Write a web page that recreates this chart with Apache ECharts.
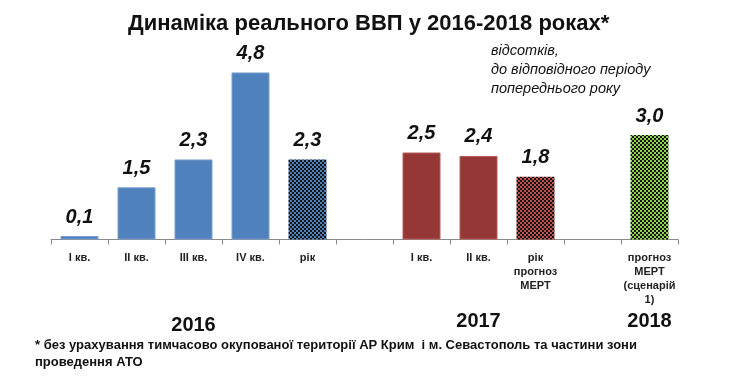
<!DOCTYPE html>
<html><head><meta charset="utf-8">
<script src="https://cdn.jsdelivr.net/npm/echarts@6/dist/echarts.min.js"></script>
<style>html,body{margin:0;padding:0;background:#fff}#c{width:744px;height:378px}</style>
</head><body><div id="c"></div>
<script>
var categories = ['I кв.', 'II кв.', 'III кв.', 'IV кв.', 'рік', '', 'I кв.', 'II кв.', 'рік\nпрогноз\nМЕРТ', '', 'прогноз\nМЕРТ\n(сценарій\n1)'];
var values = [0.1, 1.5, 2.3, 4.8, 2.3, null, 2.5, 2.4, 1.8, null, 3.0];
var barKinds = ['blue', 'blue', 'blue', 'blue', 'bluePat', '', 'red', 'red', 'redPat', '', 'greenPat'];
var yearLabels = ['2016', '2017', '2018'];
var yearSpans = [[0, 4], [6, 8], [10, 10]];

function pattern(base) {
  var cv = document.createElement('canvas');
  cv.width = 4; cv.height = 4;
  var g = cv.getContext('2d');
  g.fillStyle = base; g.fillRect(0, 0, 4, 4);
  g.fillStyle = '#141414';
  g.fillRect(0, 0, 2, 2); g.fillRect(2, 2, 2, 2);
  return { image: cv, repeat: 'repeat' };
}
var styles = {
  blue: { color: '#4F81BD', borderColor: '#7A9FD0', borderWidth: 1 },
  red: { color: '#953735', borderColor: '#B25E5C', borderWidth: 1 },
  bluePat: { color: pattern('#4F81BD') },
  redPat: { color: pattern('#C0504D') },
  greenPat: { color: pattern('#8ED14C') }
};

var data = values.map(function (v, i) {
  if (v === null) return { value: null };
  return { value: v, itemStyle: styles[barKinds[i]] };
});

var chart = echarts.init(document.getElementById('c'));
chart.setOption({
  animation: false,
  title: {
    text: 'Динаміка реального ВВП у 2016-2018 роках*',
    left: 123, top: 8,
    textStyle: { fontFamily: 'Liberation Sans, Arial', fontWeight: 'bold', fontSize: 22, color: '#111' }
  },
  grid: { left: 51, right: 66, top: 65.5, bottom: 138.5 },
  xAxis: {
    type: 'category',
    data: categories,
    axisLine: { show: true, lineStyle: { color: '#8a8a8a', width: 1 } },
    axisTick: { show: true, length: 5, alignWithLabel: false, lineStyle: { color: '#8a8a8a' } },
    axisLabel: {
      interval: 0, margin: 11, color: '#222',
      fontFamily: 'Liberation Sans, Arial', fontWeight: 'bold', fontSize: 11, lineHeight: 14
    }
  },
  yAxis: { type: 'value', min: 0, max: 5, show: false, splitLine: { show: false } },
  series: [{
    type: 'bar',
    data: data,
    barWidth: 38,
    label: {
      show: true, position: 'top', distance: 9,
      fontFamily: 'Liberation Sans, Arial', fontWeight: 'bold', fontStyle: 'italic', fontSize: 20, color: '#111',
      formatter: function (p) { return p.value == null ? '' : p.value.toFixed(1).replace('.', ','); }
    }
  }]
});

var graphics = [
  {
    type: 'text', left: 491, top: 41,
    style: {
      text: 'відсотків,\nдо відповідного періоду\nпопереднього року',
      font: 'italic 14.5px Liberation Sans, Arial', fill: '#111', lineHeight: 19
    }
  },
  {
    type: 'text', left: 35, top: 337,
    style: {
      text: '* без урахування тимчасово окупованої території АР Крим  і м. Севастополь та частини зони\nпроведення АТО',
      font: 'bold 13px Liberation Sans, Arial', fill: '#111', lineHeight: 17
    }
  }
];
yearLabels.forEach(function (t, i) {
  var a = chart.convertToPixel({ xAxisIndex: 0 }, yearSpans[i][0]);
  var b = chart.convertToPixel({ xAxisIndex: 0 }, yearSpans[i][1]);
  graphics.push({
    type: 'text', x: (a + b) / 2, y: i === 0 ? 325 : 321,
    style: { text: t, font: 'bold 20px Liberation Sans, Arial', fill: '#111', align: 'center', verticalAlign: 'middle' }
  });
});
chart.setOption({ graphic: graphics });
</script>
</body></html>
